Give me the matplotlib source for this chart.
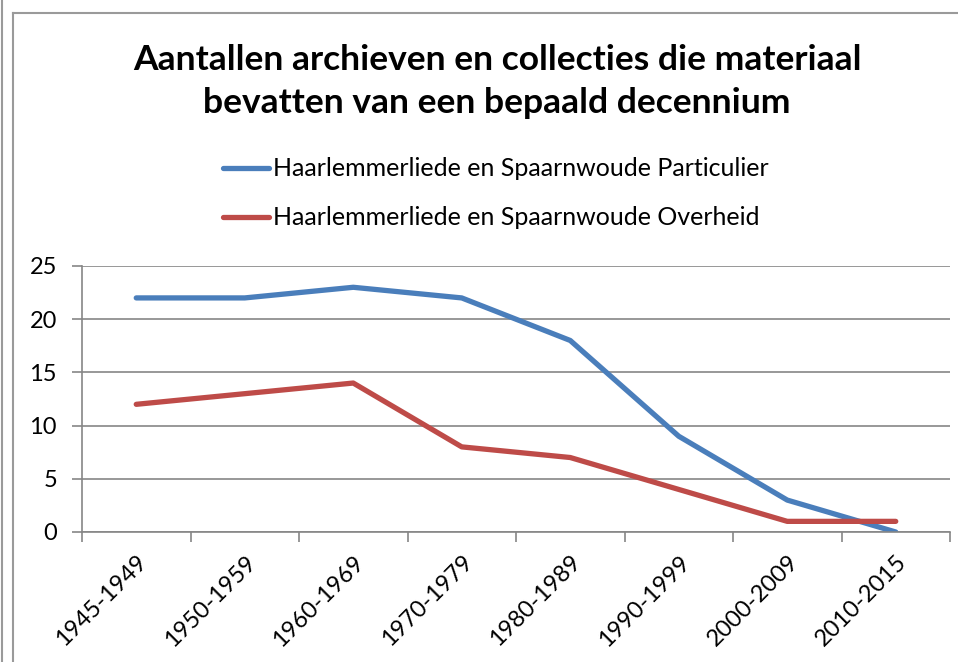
import matplotlib
matplotlib.use("Agg")
import matplotlib.pyplot as plt
from matplotlib.lines import Line2D

periods = ["1945-1949", "1950-1959", "1960-1969", "1970-1979",
           "1980-1989", "1990-1999", "2000-2009", "2010-2015"]
particulier = [22, 22, 23, 22, 18, 9, 3, 0]
overheid = [12, 13, 14, 8, 7, 4, 1, 1]
series_names = ["Haarlemmerliede en Spaarnwoude Particulier",
                "Haarlemmerliede en Spaarnwoude Overheid"]

plt.rcParams['font.family'] = ['Lato', 'DejaVu Sans']

W, H = 958, 662
fig = plt.figure(figsize=(W / 100, H / 100), dpi=100)
ax = fig.add_axes([82 / W, 1 - 532 / H, (950 - 82) / W, (532 - 266) / H])

x = list(range(len(periods)))
l1, = ax.plot(x, particulier, color="#4A7EBB", lw=3.8, solid_capstyle="round")
l2, = ax.plot(x, overheid, color="#BE4B48", lw=3.8, solid_capstyle="round")

ax.set_xlim(-0.5, len(periods) - 0.5)
ax.set_ylim(0, 25)
ax.set_yticks(range(0, 26, 5))
ax.set_xticks([i - 0.5 for i in range(len(periods) + 1)])
ax.set_xticklabels([])
ax.set_xticks(x, minor=True)
ax.set_xticklabels(periods, minor=True, rotation=45, ha="right",
                   rotation_mode="anchor", fontsize=17)
ax.tick_params(axis="x", which="minor", length=0, pad=14)
ax.tick_params(axis="x", which="major", length=7, color="#868686", width=1.2)
ax.tick_params(axis="y", length=7, color="#868686", width=1.2, labelsize=17, pad=11)
ax.yaxis.grid(True, color="#868686", lw=1.2)
ax.set_axisbelow(True)
for s in ["top", "right"]:
    ax.spines[s].set_visible(False)
for s in ["left", "bottom"]:
    ax.spines[s].set_color("#868686")
    ax.spines[s].set_linewidth(1.2)

fig.text(497 / W, 1 - 60 / H, "Aantallen archieven en collecties die materiaal",
         ha="center", va="center", fontsize=25.5, fontweight="bold")
fig.text(497 / W, 1 - 103 / H, "bevatten van een bepaald decennium",
         ha="center", va="center", fontsize=25.5, fontweight="bold")

fig.legend([l1, l2], series_names, loc="upper left",
           bbox_to_anchor=(200 / W, 1 - 135 / H), frameon=False,
           fontsize=18, handlelength=1.85, handletextpad=0.16, labelspacing=1.03)

# chart frame borders
fig.add_artist(Line2D([2 / W, 2 / W], [0, 1], color="#9a9a9a", lw=1.5))
fig.add_artist(Line2D([13 / W, 13 / W], [0, 1 - 13 / H], color="#9a9a9a", lw=1.5))
fig.add_artist(Line2D([13 / W, 1], [1 - 13 / H, 1 - 13 / H], color="#9a9a9a", lw=1.5))

fig.savefig("out.png", dpi=100)
